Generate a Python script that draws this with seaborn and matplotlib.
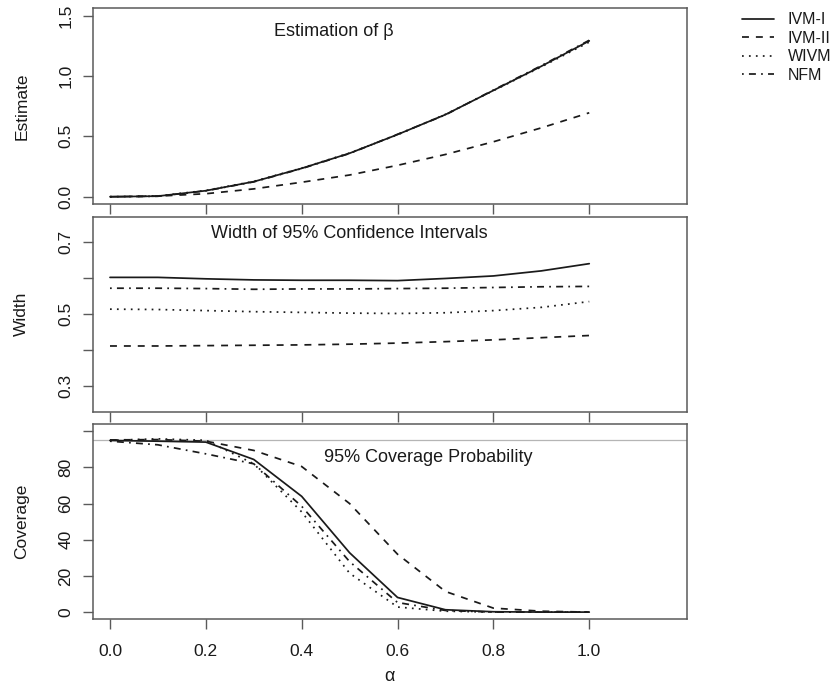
import pandas as pd
import matplotlib.pyplot as plt
import seaborn as sns

# --- data ---
alpha = [0.0, 0.1, 0.2, 0.3, 0.4, 0.5, 0.6, 0.7, 0.8, 0.9, 1.0]
methods = ["IVM-I", "IVM-II", "WIVM", "NFM"]

est_ivm1 = [0.0, 0.005, 0.05, 0.125, 0.235, 0.36, 0.515, 0.68, 0.88, 1.08, 1.29]
est_ivm2 = [0.0, 0.005, 0.025, 0.065, 0.12, 0.18, 0.26, 0.35, 0.455, 0.57, 0.695]
est_wivm = [0.0, 0.006, 0.052, 0.127, 0.237, 0.362, 0.513, 0.682, 0.878, 1.075, 1.28]
est_nfm = [0.0, 0.004, 0.049, 0.123, 0.233, 0.358, 0.517, 0.678, 0.883, 1.085, 1.295]

wid_ivm1 = [0.602, 0.602, 0.598, 0.595, 0.594, 0.594, 0.593, 0.599, 0.606, 0.62, 0.64]
wid_ivm2 = [0.412, 0.412, 0.413, 0.414, 0.415, 0.417, 0.42, 0.424, 0.429, 0.435, 0.441]
wid_wivm = [0.514, 0.513, 0.51, 0.507, 0.505, 0.503, 0.502, 0.504, 0.51, 0.519, 0.535]
wid_nfm = [0.572, 0.572, 0.571, 0.569, 0.57, 0.57, 0.571, 0.572, 0.574, 0.576, 0.577]

cov_ivm1 = [94.9, 94.5, 94.0, 84.4, 64.0, 32.8, 8.1, 1.3, 0.2, 0.0, 0.0]
cov_ivm2 = [95.2, 95.4, 94.5, 89.4, 80.5, 60.0, 32.0, 11.4, 2.2, 0.5, 0.0]
cov_wivm = [95.0, 95.8, 95.0, 82.0, 55.4, 21.5, 2.8, 0.5, 0.0, 0.0, 0.0]
cov_nfm = [94.5, 92.5, 87.5, 82.0, 58.5, 27.9, 5.3, 0.9, 0.0, 0.0, 0.0]

nominal = 95


def long_df(series):
    rows = []
    for m, vals in zip(methods, series):
        for a, v in zip(alpha, vals):
            rows.append({"alpha": a, "value": v, "method": m})
    return pd.DataFrame(rows)


sns.set_style("white")
plt.rcParams["font.family"] = ["Liberation Sans", "DejaVu Sans"]

DARK = "#1a1a1a"
EDGE = "#5a5a5a"
dashes = {"IVM-I": "", "IVM-II": (4, 4), "WIVM": (1, 3), "NFM": (1, 3, 4, 3)}

fig = plt.figure(figsize=(8.37, 6.88), dpi=100)
left, width = 0.1108, 0.710
ax1 = fig.add_axes([left, 0.7035, width, 0.2845])
ax2 = fig.add_axes([left, 0.4016, width, 0.2834])
ax3 = fig.add_axes([left, 0.0998, width, 0.2839])

panels = [
    (ax1, [est_ivm1, est_ivm2, est_wivm, est_nfm], "Estimate"),
    (ax2, [wid_ivm1, wid_ivm2, wid_wivm, wid_nfm], "Width"),
    (ax3, [cov_ivm1, cov_ivm2, cov_wivm, cov_nfm], "Coverage"),
]

for i, (ax, series, ylab) in enumerate(panels):
    df = long_df(series)
    sns.lineplot(data=df, x="alpha", y="value", style="method",
                 style_order=methods, dashes=dashes, color=DARK,
                 linewidth=1.25, ax=ax, legend=(i == 0))
    ax.set_xlim(-0.036, 1.204)
    ax.set_xticks(alpha[::2])
    for sp in ax.spines.values():
        sp.set_visible(True)
        sp.set_color(EDGE)
        sp.set_linewidth(1.1)
    ax.tick_params(axis="both", which="both", direction="out", length=7,
                   width=1.0, color=EDGE, labelsize=12.5, labelcolor=DARK,
                   left=True, bottom=True)
    ax.tick_params(axis="y", pad=7)
    ax.tick_params(axis="x", pad=11)
    ax.set_ylabel(ylab, fontsize=12.5, color=DARK)
    ax.yaxis.set_label_coords(-0.107, 0.5)
    if i < 2:
        ax.set_xlabel("")
        ax.set_xticklabels([])

# top panel
ax1.set_ylim(-0.06, 1.56)
ax1.set_yticks([0.0, 0.5, 1.0, 1.5])
ax1.set_yticklabels(["0.0", "0.5", "1.0", "1.5"])
ax1.text(0.468, 1.37, "Estimation of β", ha="center", va="center",
         fontsize=13, color=DARK)

# middle panel
ax2.set_ylim(0.23, 0.77)
ax2.set_yticks([0.3, 0.4, 0.5, 0.6, 0.7])
ax2.set_yticklabels(["0.3", "", "0.5", "", "0.7"])
ax2.text(0.50, 0.724, "Width of 95% Confidence Intervals", ha="center",
         va="center", fontsize=13, color=DARK)

# bottom panel
ax3.set_ylim(-4, 104)
ax3.set_yticks([0, 20, 40, 60, 80, 100])
ax3.set_yticklabels(["0", "20", "40", "60", "80", ""])
ax3.axhline(nominal, color="#b5b5b5", linewidth=0.9, zorder=0)
ax3.text(0.664, 85.7, "95% Coverage Probability", ha="center", va="center",
         fontsize=13, color=DARK)
ax3.set_xticklabels(["0.0", "0.2", "0.4", "0.6", "0.8", "1.0"])
ax3.set_xlabel("α", fontsize=13, color=DARK, labelpad=6)

for ax in (ax1, ax2, ax3):
    for lab in ax.get_yticklabels():
        lab.set_rotation(90)
        lab.set_va("center")
        lab.set_ha("right")

sns.move_legend(ax1, loc="upper left", bbox_to_anchor=(0.886, 0.982),
                bbox_transform=fig.transFigure, frameon=False, title=None,
                fontsize=11.5, borderaxespad=0, borderpad=0,
                handlelength=2.0, handletextpad=0.9, labelspacing=0.22)
for t in ax1.get_legend().get_texts():
    t.set_color(DARK)

fig.savefig("out.png", dpi=100)
